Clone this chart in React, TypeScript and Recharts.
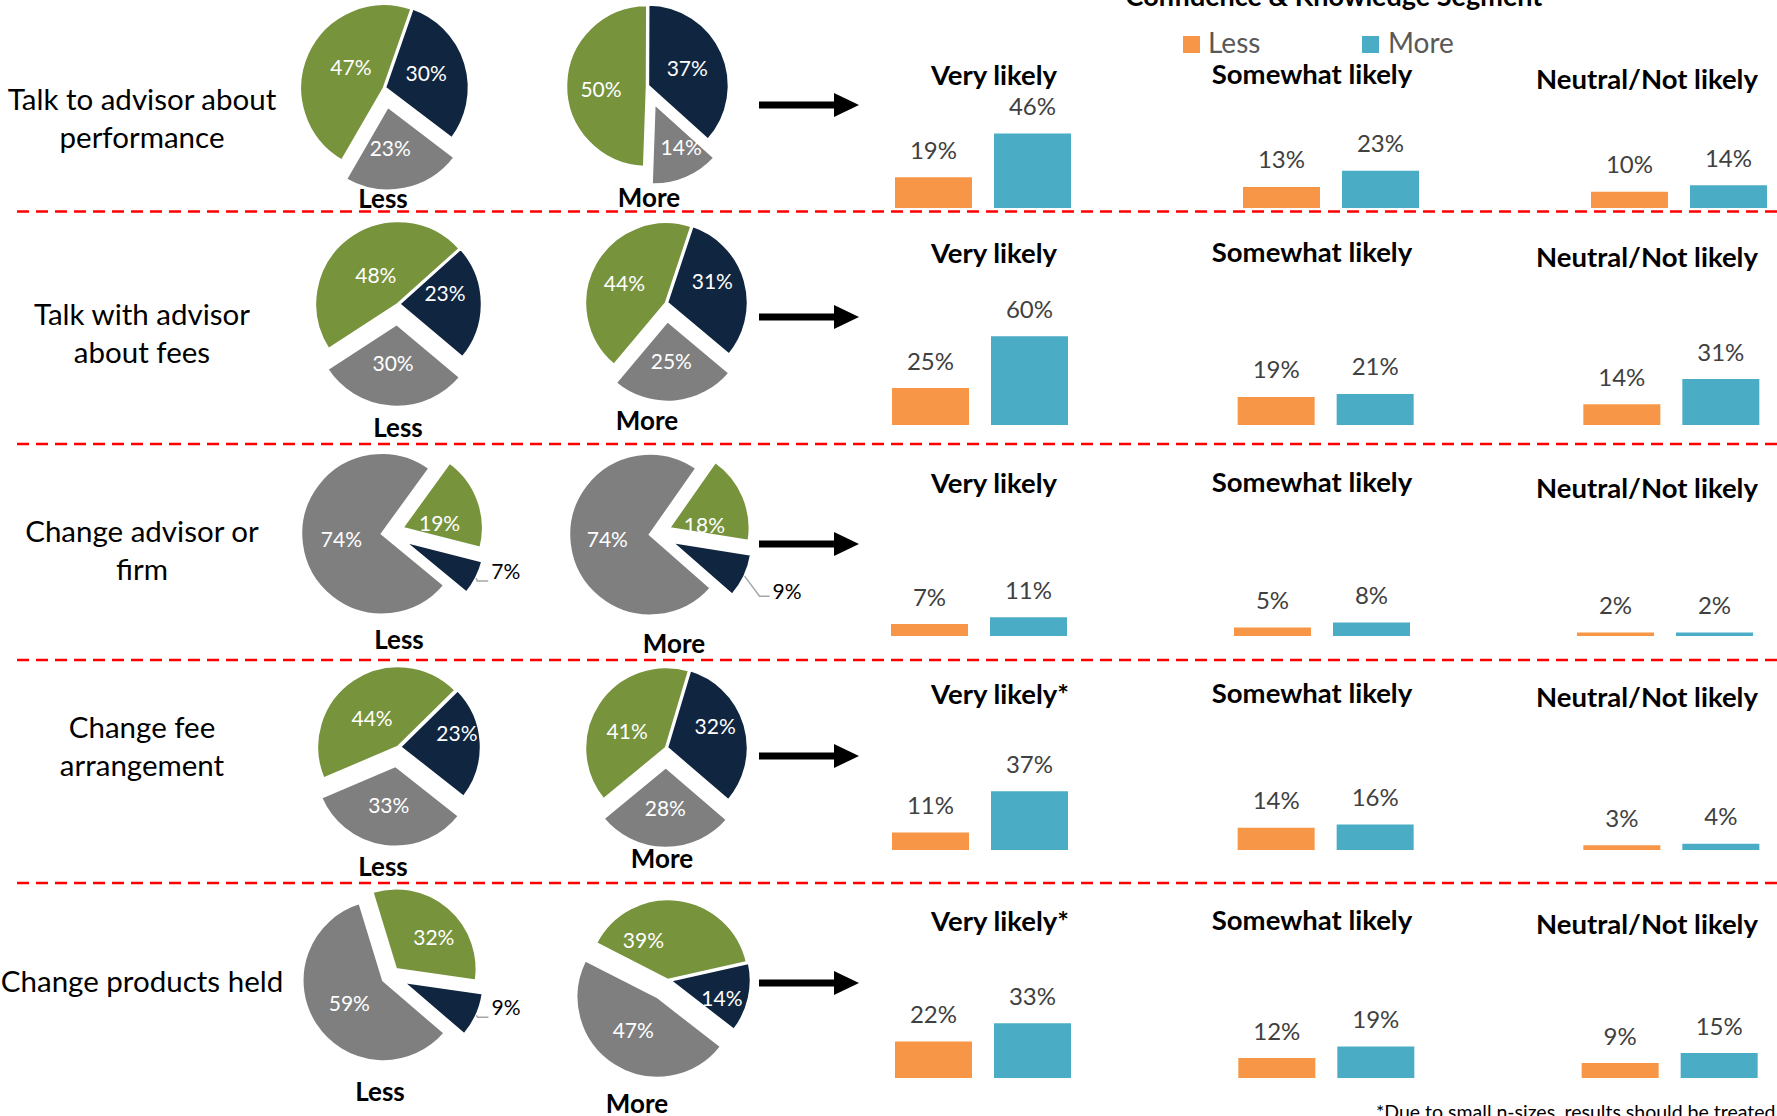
import React from 'react';
import { PieChart, Pie, Cell, BarChart, Bar, XAxis, YAxis, LabelList } from 'recharts';

// ---------------- data ----------------
const chartTitle = 'Confidence & Knowledge Segment';
const legendLabels = ['Less', 'More'];
const actionLabels = [
  ['Talk to advisor about', 'performance'],
  ['Talk with advisor', 'about fees'],
  ['Change advisor or', 'firm'],
  ['Change fee', 'arrangement'],
  ['Change products held'],
];
const pieSegments = ['Segment 1', 'Segment 2', 'Segment 3'];
const lessPieValues = [
  [47, 30, 23],
  [48, 23, 30],
  [19, 7, 74],
  [44, 23, 33],
  [32, 9, 59],
];
const morePieValues = [
  [50, 37, 14],
  [44, 31, 25],
  [18, 9, 74],
  [41, 32, 28],
  [39, 14, 47],
];
const likelihoodCategories = ['Very likely', 'Somewhat likely', 'Neutral/Not likely'];
const likelihoodTitles = [
  ['Very likely', 'Somewhat likely', 'Neutral/Not likely'],
  ['Very likely', 'Somewhat likely', 'Neutral/Not likely'],
  ['Very likely', 'Somewhat likely', 'Neutral/Not likely'],
  ['Very likely*', 'Somewhat likely', 'Neutral/Not likely'],
  ['Very likely*', 'Somewhat likely', 'Neutral/Not likely'],
];
const barLessValues = [
  [19, 13, 10],
  [25, 19, 14],
  [7, 5, 2],
  [11, 14, 3],
  [22, 12, 9],
];
const barMoreValues = [
  [46, 23, 14],
  [60, 21, 31],
  [11, 8, 2],
  [37, 16, 4],
  [33, 19, 15],
];
const footnote = '*Due to small n-sizes, results should be treated with caution';

// ---------------- style / layout ----------------
const FONT = 'Lato, "Open Sans", Arial, sans-serif';
const GREEN = '#77933C';
const NAVY = '#10253F';
const GRAY = '#7F7F7F';
const ORANGE = '#F79646';
const BLUE = '#4BACC6';
const PIE_COLORS = [GREEN, NAVY, GRAY];

type Outside = { k: number; elbow: [number, number]; len: number; tdy: number };
type PieLayout = {
  cx: number;
  cy: number;
  r: number;
  start: number;
  explode: number[];
  shift: [number, number][];
  outside?: Outside;
};

const lessPieLayout: PieLayout[] = [
  { cx: 384, cy: 88, r: 84, start: 210, explode: [0, 1, 19], shift: [[6, -3], [0, -2], [-6, 0]] },
  { cx: 398, cy: 304, r: 83, start: 237, explode: [0, 1, 20], shift: [[4, 6], [3, -10], [-1, -3]] },
  {
    cx: 388, cy: 533, r: 81, start: 36, explode: [15, 18, 6], shift: [[-3, 10], [0, 0], [2, 0]],
    outside: { k: 1, elbow: [1, 3], len: 11, tdy: -2 },
  },
  { cx: 398, cy: 747, r: 81, start: 247, explode: [0, 2, 19], shift: [[-2, 7], [14, -11], [-1, -3]] },
  {
    cx: 390, cy: 976, r: 81, start: 343, explode: [9, 14, 8], shift: [[10, 1], [0, 0], [2, 0]],
    outside: { k: 1, elbow: [1, 2], len: 11, tdy: -2 },
  },
];
const morePieLayout: PieLayout[] = [
  { cx: 647, cy: 86, r: 81, start: 182, explode: [0, 1, 19], shift: [[-3, 4], [0, 0], [10, 4]] },
  { cx: 666, cy: 303, r: 81, start: 220, explode: [0, 1, 18], shift: [[-4, 1], [4, -10], [0, -2]] },
  {
    cx: 655, cy: 534, r: 81, start: 35, explode: [15, 18, 5], shift: [[-4, 14], [0, 0], [0, 0]],
    outside: { k: 1, elbow: [15, 20], len: 10, tdy: 3 },
  },
  { cx: 666, cy: 748, r: 81, start: 230.5, explode: [0, 1, 19], shift: [[-3, 7], [7, -9], [0, -2]] },
  { cx: 668, cy: 980, r: 81, start: 297, explode: [0, 2, 20], shift: [[-30, 3], [10, 9], [-1, -3]] },
];

const lessLabelPos = [[383, 208], [398, 437], [399, 649], [383, 876], [380, 1101]];
const moreLabelPos = [[649, 207], [647, 430], [674, 653], [662, 868], [637, 1113]];
const actionBaselines = [109.5, 324.5, 542, 738, 992];
const arrowYs = [105, 317, 544, 756, 983];
const dividerYs = [211.5, 444, 660, 883];

const barLayout = [
  { left: 809, width: 1044, base: 207.5, scale: 1.62 },
  { left: 807, width: 1037, base: 425, scale: 1.48 },
  { left: 807, width: 1029, base: 636, scale: 1.7 },
  { left: 807, width: 1037, base: 850, scale: 1.59 },
  { left: 811, width: 1030, base: 1078, scale: 1.66 },
];
const titleBaselines = [
  [85, 83.5, 88.5],
  [263, 262, 266.5],
  [493, 492, 497.5],
  [704, 703, 707],
  [930.5, 929.5, 934],
];
const titleXs = [
  [994, 1312, 1647],
  [994, 1312, 1647],
  [994, 1312, 1647],
  [1000, 1312, 1647],
  [1000, 1312, 1647],
];

const RAD = Math.PI / 180;

function SegmentPie({ values, layout }: { values: number[]; layout: PieLayout }) {
  const W = 360;
  const H = 260;
  const ox = 180;
  const oy = 130;
  const data = values.map((v, i) => ({ name: pieSegments[i], value: v }));
  const total = values.reduce((a, b) => a + b, 0);
  let acc = 0;
  const mids = values.map((v) => {
    const m = layout.start + ((acc + v / 2) / total) * 360;
    acc += v;
    return m;
  });

  const renderLabel = (k: number) => (p: any) => {
    if (p.index !== k) return <g />;
    const { cx, cy, midAngle, outerRadius, value } = p;
    const c = Math.cos(-midAngle * RAD);
    const s = Math.sin(-midAngle * RAD);
    if (layout.outside && layout.outside.k === k) {
      const o = layout.outside;
      const sx = cx + outerRadius * c;
      const sy = cy + outerRadius * s;
      const ex = sx + o.elbow[0];
      const ey = sy + o.elbow[1];
      const tx = ex + o.len;
      return (
        <g>
          <polyline points={`${sx},${sy} ${ex},${ey} ${tx},${ey}`} fill="none" stroke="#A6A6A6" strokeWidth={1.5} />
          <text x={tx + 3} y={ey + o.tdy} textAnchor="start" fill="#000" fontSize={21} fontFamily={FONT}>
            {`${value}%`}
          </text>
        </g>
      );
    }
    const r = 43;
    const [dx, dy] = layout.shift[k];
    return (
      <text
        x={cx + r * c + dx}
        y={cy + r * s + dy}
        dy="0.36em"
        textAnchor="middle"
        fill="#fff"
        fontSize={21}
        fontFamily={FONT}
      >
        {`${value}%`}
      </text>
    );
  };

  return (
    <div style={{ position: 'absolute', left: layout.cx - ox, top: layout.cy - oy, width: W, height: H }}>
      <PieChart width={W} height={H} margin={{ top: 0, right: 0, bottom: 0, left: 0 }} style={{ overflow: 'visible' }}>
        {values.map((_, k) => {
          const a = mids[k] * RAD;
          const e = layout.explode[k];
          return (
            <Pie
              key={k}
              data={data}
              dataKey="value"
              nameKey="name"
              cx={ox + e * Math.sin(a)}
              cy={oy - e * Math.cos(a)}
              innerRadius={0}
              outerRadius={layout.r}
              startAngle={90 - layout.start}
              endAngle={90 - layout.start - 360}
              isAnimationActive={false}
              labelLine={false}
              label={renderLabel(k)}
            >
              {data.map((d, i) => (
                <Cell
                  key={i}
                  fill={i === k ? PIE_COLORS[i] : 'transparent'}
                  stroke={i === k ? '#fff' : 'none'}
                  strokeWidth={i === k ? 2.5 : 0}
                />
              ))}
            </Pie>
          );
        })}
      </PieChart>
    </div>
  );
}

function RowBars({ row }: { row: number }) {
  const L = barLayout[row];
  const plotH = 100 * L.scale;
  const data = likelihoodCategories.map((c, i) => ({
    category: c,
    less: barLessValues[row][i],
    more: barMoreValues[row][i],
  }));
  const labelProps = {
    position: 'top' as const,
    offset: 18.5,
    formatter: (v: any) => `${v}%`,
    fill: '#404040',
    fontSize: 24,
    fontFamily: FONT,
  };
  return (
    <div style={{ position: 'absolute', left: L.left, top: L.base - plotH, width: L.width, height: plotH }}>
      <BarChart
        width={L.width}
        height={plotH}
        data={data}
        margin={{ top: 0, right: 0, bottom: 0, left: 0 }}
        barSize={77}
        barGap={22}
        style={{ overflow: 'visible' }}
      >
        <XAxis dataKey="category" hide />
        <YAxis hide domain={[0, 100]} />
        <Bar dataKey="less" name={legendLabels[0]} fill={ORANGE} isAnimationActive={false}>
          <LabelList dataKey="less" {...labelProps} />
        </Bar>
        <Bar dataKey="more" name={legendLabels[1]} fill={BLUE} isAnimationActive={false}>
          <LabelList dataKey="more" {...labelProps} />
        </Bar>
      </BarChart>
    </div>
  );
}

export default function App() {
  return (
    <div
      style={{
        position: 'absolute',
        left: 0,
        top: 0,
        width: 1777,
        height: 1116,
        overflow: 'hidden',
        background: '#fff',
        fontFamily: FONT,
      }}
    >
      <svg width={1777} height={1116} style={{ position: 'absolute', left: 0, top: 0 }}>
        {dividerYs.map((y, i) => (
          <line key={i} x1={17} x2={1777} y1={y} y2={y} stroke="#FF0000" strokeWidth={2.5} strokeDasharray="12 7" />
        ))}
        {actionLabels.map((lines, r) =>
          lines.map((t, j) => (
            <text key={`${r}-${j}`} x={142} y={actionBaselines[r] + j * 38} textAnchor="middle" fontSize={29.5} fontFamily={FONT} fill="#000">
              {t}
            </text>
          ))
        )}
        {lessLabelPos.map(([x, y], r) => (
          <text key={`l${r}`} x={x} y={y} textAnchor="middle" fontSize={26} fontWeight={700} fontFamily={FONT} fill="#000">
            {legendLabels[0]}
          </text>
        ))}
        {moreLabelPos.map(([x, y], r) => (
          <text key={`m${r}`} x={x} y={y} textAnchor="middle" fontSize={26} fontWeight={700} fontFamily={FONT} fill="#000">
            {legendLabels[1]}
          </text>
        ))}
        {arrowYs.map((y, i) => (
          <g key={`a${i}`}>
            <rect x={759} y={y - 3.5} width={76} height={7} fill="#000" />
            <polygon points={`${834},${y - 12} ${859},${y} ${834},${y + 12}`} fill="#000" />
          </g>
        ))}
        {likelihoodTitles.map((row, r) =>
          row.map((t, j) => (
            <text key={`t${r}-${j}`} x={titleXs[r][j]} y={titleBaselines[r][j]} textAnchor="middle" fontSize={27.5} fontWeight={700} fontFamily={FONT} fill="#000">
              {t}
            </text>
          ))
        )}
        <text x={1334} y={6} textAnchor="middle" fontSize={27} fontWeight={700} fontFamily={FONT} fill="#000">
          {chartTitle}
        </text>
        <rect x={1183} y={36} width={17} height={17} fill={ORANGE} />
        <text x={1208} y={53} fontSize={28} fontFamily={FONT} fill="#595959">
          {legendLabels[0]}
        </text>
        <rect x={1362} y={36} width={17} height={17} fill={BLUE} />
        <text x={1388} y={53} fontSize={28} fontFamily={FONT} fill="#595959">
          {legendLabels[1]}
        </text>
        <text x={1376} y={1119} fontSize={19.5} fontFamily={FONT} fill="#000">
          {footnote}
        </text>
      </svg>
      {lessPieValues.map((v, r) => (
        <SegmentPie key={`lp${r}`} values={v} layout={lessPieLayout[r]} />
      ))}
      {morePieValues.map((v, r) => (
        <SegmentPie key={`mp${r}`} values={v} layout={morePieLayout[r]} />
      ))}
      {barLessValues.map((_, r) => (
        <RowBars key={`b${r}`} row={r} />
      ))}
    </div>
  );
}
